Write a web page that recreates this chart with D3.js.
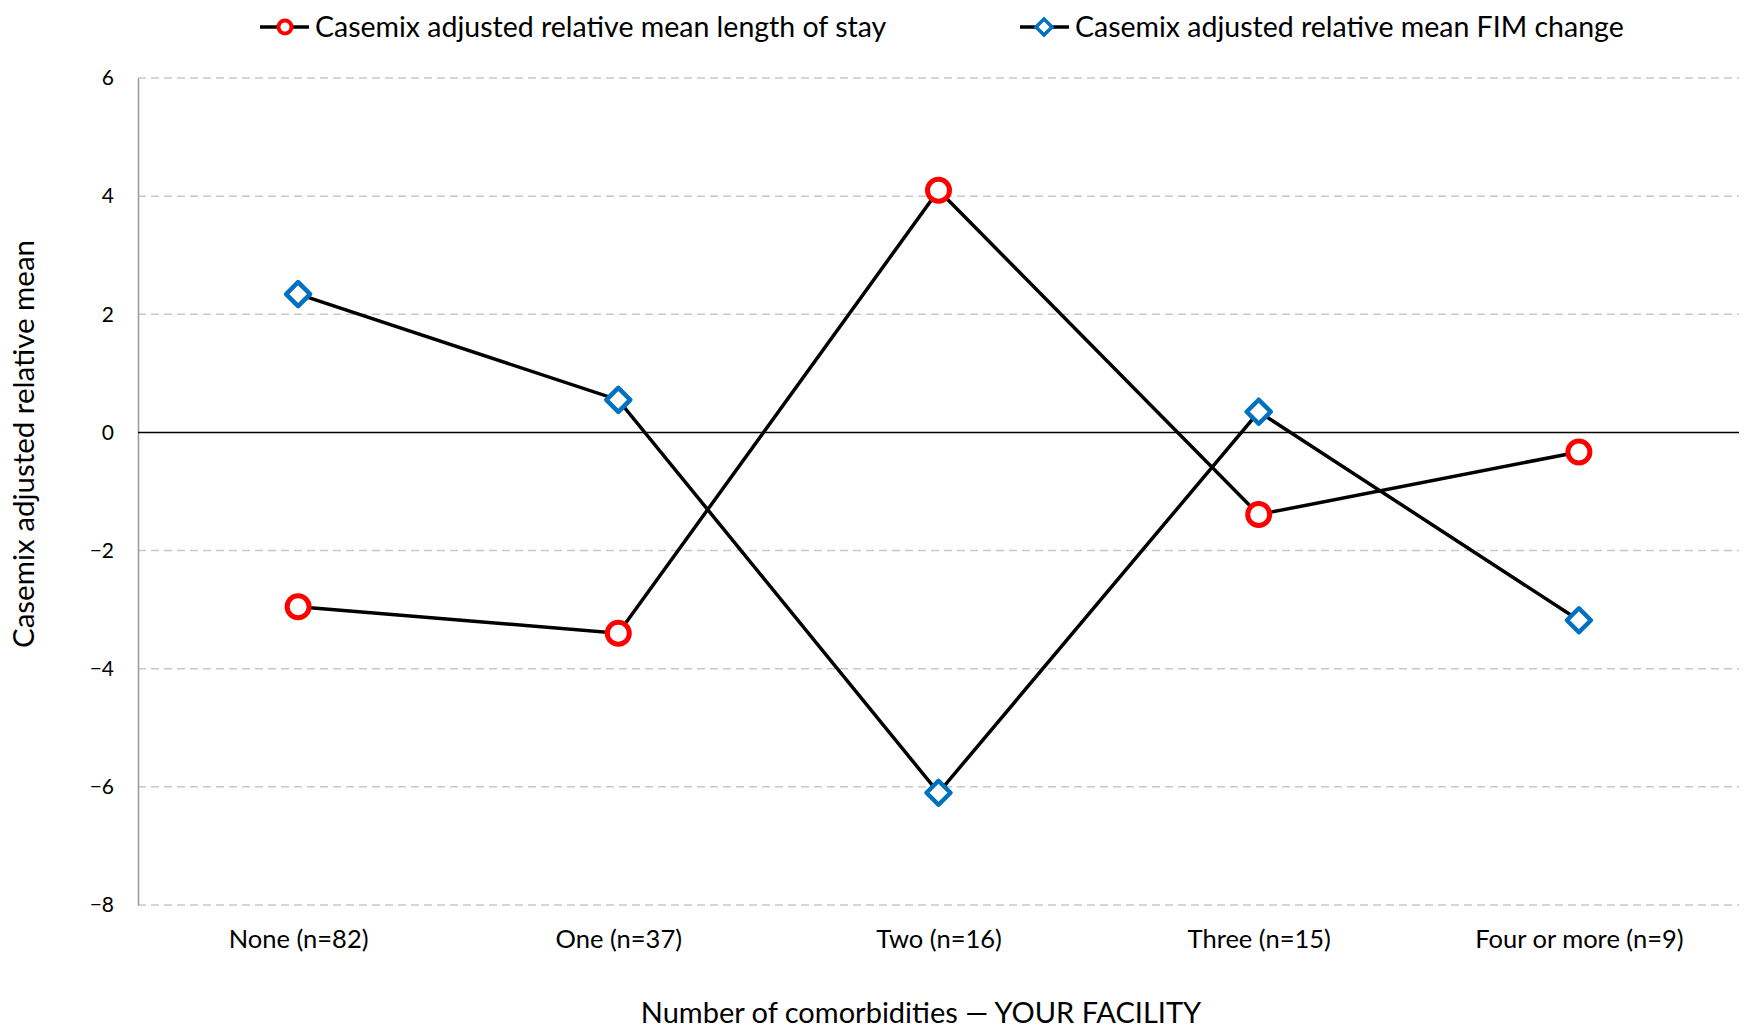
<!DOCTYPE html>
<html>
<head>
<meta charset="utf-8">
<script src="https://cdn.jsdelivr.net/npm/d3@7"></script>
<style>
  html, body { margin: 0; padding: 0; background: #fff; }
  svg { display: block; }
  text { font-family: Lato, "Open Sans", sans-serif; fill: #000; }
</style>
</head>
<body>
<svg id="chart" width="1748" height="1030"></svg>
<script>
const categories = ["None (n=82)", "One (n=37)", "Two (n=16)", "Three (n=15)", "Four or more (n=9)"];
const losValues = [-2.95, -3.4, 4.1, -1.39, -0.33];
const fimValues = [2.34, 0.55, -6.1, 0.35, -3.18];
const yTicks = [6, 4, 2, 0, -2, -4, -6, -8];
const seriesNames = ["Casemix adjusted relative mean length of stay", "Casemix adjusted relative mean FIM change"];
const yTitle = "Casemix adjusted relative mean";
const xTitle = "Number of comorbidities \u2014 YOUR FACILITY";

const svg = d3.select("#chart");
const margin = { left: 138, right: 9, top: 78, bottom: 125 };
const W = 1748, H = 1030;

const x = d3.scalePoint().domain(categories).range([margin.left, W - margin.right]).padding(0.5);
const y = d3.scaleLinear().domain([-8, 6]).range([H - margin.bottom, margin.top]);

// gridlines
svg.append("g").selectAll("line").data(yTicks.filter(d => d !== 0)).join("line")
  .attr("x1", margin.left).attr("x2", W - margin.right)
  .attr("y1", d => y(d)).attr("y2", d => y(d))
  .attr("stroke", "#c8c8c8").attr("stroke-width", 1.5).attr("stroke-dasharray", "8,5");

// y axis
const yAxis = svg.append("g").attr("transform", `translate(${margin.left},0)`)
  .call(d3.axisLeft(y).tickValues(yTicks).tickSize(0).tickPadding(24).tickFormat(d3.format("d")));
yAxis.select(".domain").attr("stroke", "#999").attr("stroke-width", 1.5);
yAxis.selectAll("text").attr("font-size", 21).style("font-family", "Lato, sans-serif");

// zero line
svg.append("line").attr("x1", margin.left).attr("x2", W - margin.right)
  .attr("y1", y(0)).attr("y2", y(0)).attr("stroke", "#000").attr("stroke-width", 1.5);

// x axis labels
const xAxis = svg.append("g").attr("transform", `translate(0,${H - margin.bottom})`)
  .call(d3.axisBottom(x).tickSize(0).tickPadding(25));
xAxis.select(".domain").remove();
xAxis.selectAll("text").attr("font-size", 25.5).style("font-family", "Lato, sans-serif");

// lines
const line = d3.line().x((d, i) => x(categories[i])).y(d => y(d));
svg.append("path").datum(losValues).attr("d", line).attr("fill", "none").attr("stroke", "#000").attr("stroke-width", 3.5);
svg.append("path").datum(fimValues).attr("d", line).attr("fill", "none").attr("stroke", "#000").attr("stroke-width", 3.5);

// markers
svg.append("g").selectAll("circle").data(losValues).join("circle")
  .attr("cx", (d, i) => x(categories[i])).attr("cy", d => y(d)).attr("r", 11)
  .attr("fill", "#fff").attr("stroke", "#ff0000").attr("stroke-width", 5);
const diamond = s => `M0,${-s}L${s},0L0,${s}L${-s},0Z`;
svg.append("g").selectAll("path").data(fimValues).join("path")
  .attr("transform", (d, i) => `translate(${x(categories[i])},${y(d)})`)
  .attr("d", diamond(12)).attr("fill", "#fff").attr("stroke", "#0070c0").attr("stroke-width", 4.5).attr("stroke-linejoin", "round");

// legend
const lg = svg.append("g");
const legendItems = [
  { name: seriesNames[0], x0: 260, type: "circle" },
  { name: seriesNames[1], x0: 1020, type: "diamond" }
];
const ly = 27;
legendItems.forEach(it => {
  lg.append("line").attr("x1", it.x0).attr("x2", it.x0 + 49).attr("y1", ly).attr("y2", ly)
    .attr("stroke", "#000").attr("stroke-width", 3.5);
  if (it.type === "circle") {
    lg.append("circle").attr("cx", it.x0 + 25).attr("cy", ly).attr("r", 6.5)
      .attr("fill", "#fff").attr("stroke", "#ff0000").attr("stroke-width", 4);
  } else {
    lg.append("path").attr("transform", `translate(${it.x0 + 24},${ly})`).attr("d", diamond(8))
      .attr("fill", "#fff").attr("stroke", "#0070c0").attr("stroke-width", 3.5);
  }
  lg.append("text").attr("x", it.x0 + 55).attr("y", ly).attr("dy", "0.35em")
    .attr("font-size", 28.5).text(it.name);
});

// axis titles
svg.append("text").attr("transform", `translate(24,${444}) rotate(-90)`)
  .attr("text-anchor", "middle").attr("dy", "0.35em").attr("font-size", 29.5).text(yTitle);
svg.append("text").attr("x", 921).attr("y", 1013).attr("text-anchor", "middle").attr("dy", "0.35em")
  .attr("font-size", 29).text(xTitle);
</script>
</body>
</html>
